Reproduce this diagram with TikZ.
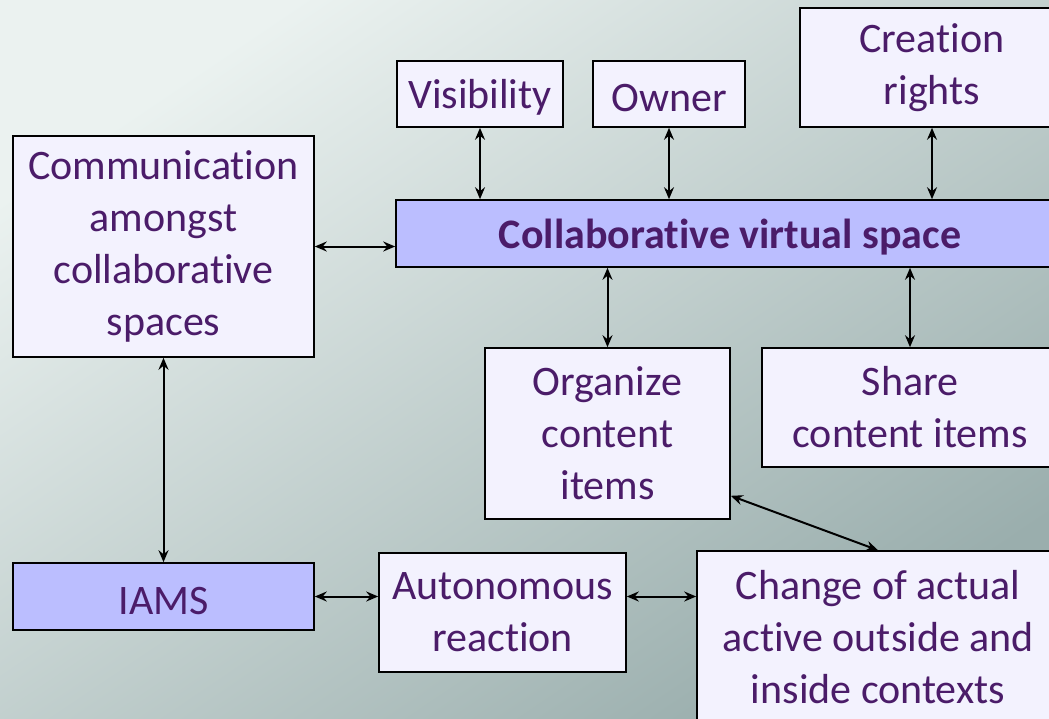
\documentclass[tikz,border=0pt]{standalone}
\usepackage{fontspec}
\setmainfont[Ligatures=NoCommon]{Carlito}
\usetikzlibrary{positioning, arrows.meta}

\definecolor{bgtl}{HTML}{EBF2F0}
\definecolor{bgmid}{HTML}{D0DAD8}
\definecolor{bgbr}{HTML}{9AAEAD}
\definecolor{boxfill}{HTML}{F3F2FE}
\definecolor{mainfill}{HTML}{BBBEFF}
\definecolor{txt}{HTML}{4B1C69}

\begin{document}
\begin{tikzpicture}[x=1pt, y=-1pt]
    \tikzset{box/.style={draw, line width=1.6pt, fill=boxfill, text=txt, align=center, inner sep=0pt,
        font=\fontsize{42}{52}\selectfont, execute at begin node={\rule{0pt}{36pt}}}}
    \tikzset{mainbox/.style={box, fill=mainfill}}
    \tikzset{link/.style={line width=2pt, {Stealth[length=12pt,width=10pt,inset=4pt]}-{Stealth[length=12pt,width=10pt,inset=4pt]}}}
    \useasboundingbox (0,0) rectangle (1049,718);
    \clip (0,0) rectangle (1049,718);
    \shade[left color=bgtl, middle color=bgmid, right color=bgbr, shading angle=34] (0,0) rectangle (1049,718);

    \node[box, minimum width=301pt, minimum height=221pt]  (comm)     at (163.5,246.5) {Communication\\amongst\\collaborative\\spaces};
    \node[box, minimum width=166pt, minimum height=66pt]   (vis)      at (480,94)      {Visibility};
    \node[box, minimum width=152pt, minimum height=66pt]   (owner)    at (669,94)      {Owner};
    \node[box, minimum width=264pt, minimum height=119pt]  (creation) at (932,67.5)    {Creation\\rights};
    \node[mainbox, minimum width=668pt, minimum height=67pt, font=\fontsize{42}{52}\selectfont\bfseries] (cvs) at (730,233.5) {Collaborative virtual space};
    \node[box, minimum width=245pt, minimum height=171pt]  (org)      at (607.5,433.5) {Organize\\content\\items};
    \node[box, minimum width=296pt, minimum height=119pt]  (share)    at (910,407.5)   {Share\\content items};
    \node[mainbox, minimum width=301pt, minimum height=67pt] (iams)   at (163.5,596.5) {IAMS};
    \node[box, minimum width=247pt, minimum height=119pt]  (auto)     at (502.5,612.5) {Autonomous\\reaction};
    \node[box, minimum width=362pt, minimum height=172pt]  (change)   at (878,637)     {Change of actual\\active outside and\\inside contexts};

    \draw[link] (vis) -- (vis |- cvs.north);
    \draw[link] (owner) -- (owner |- cvs.north);
    \draw[link] (creation) -- (creation |- cvs.north);
    \draw[link] (comm) -- (comm -| cvs.west);
    \draw[link] (cvs.south -| org) -- (org);
    \draw[link] (cvs.south -| share) -- (share);
    \draw[link] (comm) -- (iams);
    \draw[link] (iams) -- (iams -| auto.west);
    \draw[link] (auto.east |- iams) -- (change.west |- iams);
    \draw[link] ([yshift=24pt]org.south east) -- (change.north);
\end{tikzpicture}
\end{document}
